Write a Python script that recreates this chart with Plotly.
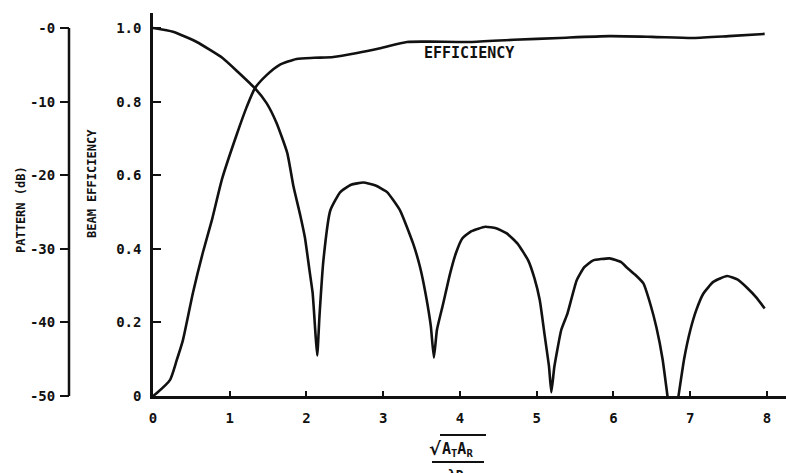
import plotly.graph_objects as go

# ---- data ----
x_pattern = [0.0, 0.26, 0.57, 0.91, 1.10, 1.33, 1.48, 1.61, 1.75, 1.83, 1.92, 1.98, 2.04, 2.08, 2.12, 2.14,
             2.17, 2.22, 2.31, 2.44, 2.58, 2.74, 2.90, 3.05, 3.22, 3.39, 3.48, 3.55, 3.62, 3.66,
             3.70, 3.78, 3.87, 3.95, 4.03, 4.15, 4.33, 4.47, 4.61, 4.75, 4.89, 4.97, 5.04, 5.10, 5.16, 5.19,
             5.23, 5.32, 5.40, 5.52, 5.62, 5.73, 5.95, 6.10, 6.17, 6.28, 6.39, 6.48, 6.56, 6.64, 6.71, 6.77,
             6.84, 6.92, 7.00, 7.08, 7.17, 7.30, 7.48, 7.62, 7.74, 7.86, 7.97]
pattern_db = [0.0, -0.5, -1.9, -4.1, -5.9, -8.2, -10.2, -12.9, -17.0, -21.5, -25.5, -28.5, -33.0, -36.0, -42.0, -44.5,
              -39.0, -31.6, -24.8, -22.3, -21.3, -21.0, -21.4, -22.3, -24.8, -29.3, -32.5, -36.0, -40.5, -44.8,
              -41.0, -37.5, -33.4, -30.5, -28.6, -27.6, -27.0, -27.2, -27.9, -29.3, -31.6, -34.0, -37.0, -41.5, -46.0, -49.5,
              -46.0, -41.0, -38.8, -34.3, -32.5, -31.6, -31.3, -31.8, -32.5, -33.5, -34.7, -37.5, -40.7, -45.0, -50.5, -55.0,
              -50.5, -45.0, -41.1, -38.3, -36.1, -34.5, -33.7, -34.2, -35.3, -36.6, -38.1]

x_eff = [0.0, 0.05, 0.22, 0.31, 0.39, 0.52, 0.65, 0.77, 0.90, 1.09, 1.22, 1.33, 1.48, 1.65, 1.87, 2.10, 2.35,
         2.66, 2.96, 3.31, 3.60, 4.13, 4.70, 5.30, 5.95, 6.50, 7.04, 7.50, 7.97]
efficiency = [0.0, 0.008, 0.043, 0.098, 0.152, 0.28, 0.39, 0.48, 0.59, 0.71, 0.785, 0.837, 0.872, 0.90, 0.916, 0.919, 0.921,
              0.932, 0.945, 0.962, 0.963, 0.962, 0.968, 0.973, 0.978, 0.976, 0.973, 0.978, 0.984]

x_ticks = [0, 1, 2, 3, 4, 5, 6, 7, 8]
eff_ticks = [0, 0.2, 0.4, 0.6, 0.8, 1.0]
eff_tick_text = ["0", "0.2", "0.4", "0.6", "0.8", "1.0"]
db_ticks = [-50, -40, -30, -20, -10, 0]
db_tick_text = ["-50", "-40", "-30", "-20", "-10", "-0"]

FONT = "DejaVu Sans Mono"
INK = "#111111"

fig = go.Figure()
fig.add_trace(go.Scatter(x=x_eff, y=efficiency, mode="lines", yaxis="y",
                         line=dict(color=INK, width=2.6, shape="spline", smoothing=0.6),
                         showlegend=False, hoverinfo="skip"))
fig.add_trace(go.Scatter(x=x_pattern, y=pattern_db, mode="lines", yaxis="y2",
                         line=dict(color=INK, width=2.6, shape="spline", smoothing=0.45),
                         showlegend=False, hoverinfo="skip"))

tickfont = dict(family=FONT, size=14, color=INK, weight="bold")

fig.update_layout(
    width=786, height=473,
    margin=dict(l=69, r=0, t=13, b=77),
    paper_bgcolor="white", plot_bgcolor="white",
    xaxis=dict(domain=[(153 - 69) / 717, 1], range=[0, 8.248], tickvals=x_ticks,
               ticks="inside", ticklen=5, tickwidth=2, tickcolor=INK,
               showline=True, linecolor=INK, linewidth=2.5, showgrid=False, zeroline=False,
               tickfont=tickfont, ticklabelstandoff=7, anchor="y"),
    yaxis=dict(range=[0, 1.0408], tickvals=eff_ticks, ticktext=eff_tick_text,
               ticks="inside", ticklen=8, tickwidth=2, tickcolor=INK,
               showline=True, linecolor=INK, linewidth=2.5, showgrid=False, zeroline=False,
               tickfont=tickfont, ticklabelstandoff=6, anchor="x"),
    yaxis2=dict(range=[-50, 2.04], tickvals=db_ticks, ticktext=db_tick_text,
                overlaying="y", anchor="free", position=0, side="left",
                ticks="outside", ticklen=9, tickwidth=2, tickcolor=INK,
                showline=False, showgrid=False, zeroline=False,
                tickfont=tickfont, ticklabelstandoff=2),
)

# pattern axis line (only spans -50 .. 0 dB)
fig.add_shape(type="line", xref="paper", yref="y2", x0=0, x1=0, y0=-50, y1=0,
              line=dict(color=INK, width=2.5))

def px(v):
    return (v - 69) / 717

def pyp(v):
    return (396 - v) / 383

ann_font = dict(family=FONT, size=12, color=INK, weight="bold")
fig.add_annotation(text="PATTERN (dB)", xref="paper", yref="paper", x=px(21), y=pyp(210),
                   xanchor="center", yanchor="middle",
                   textangle=-90, showarrow=False, font=ann_font)
fig.add_annotation(text="BEAM EFFICIENCY", xref="paper", yref="paper", x=px(92), y=pyp(184),
                   xanchor="center", yanchor="middle",
                   textangle=-90, showarrow=False, font=ann_font)
fig.add_annotation(text="EFFICIENCY", x=4.12, y=0.932, xref="x", yref="y",
                   xanchor="center", yanchor="middle",
                   showarrow=False, font=dict(family=FONT, size=15, color=INK, weight="bold"))

# x-axis title: sqrt(A_T A_R) / (lambda D)
fig.add_annotation(text="√", xref="paper", yref="paper", x=px(436), y=pyp(449),
                   xanchor="center", yanchor="middle",
                   showarrow=False, font=dict(family="DejaVu Sans", size=18, color=INK, weight="bold"))
fig.add_annotation(text="A<sub>T</sub>A<sub>R</sub>", xref="paper", yref="paper", x=px(440), y=pyp(461),
                   xanchor="left", yanchor="bottom",
                   showarrow=False, font=dict(family=FONT, size=15, color=INK, weight="bold"))
fig.add_shape(type="line", xref="paper", yref="paper", x0=px(440), x1=px(486), y0=pyp(435), y1=pyp(435),
              line=dict(color=INK, width=2))
fig.add_shape(type="line", xref="paper", yref="paper", x0=px(432), x1=px(484), y0=pyp(462), y1=pyp(462),
              line=dict(color=INK, width=2))
fig.add_annotation(text="λD", xref="paper", yref="paper", x=px(456), y=pyp(465),
                   xanchor="center", yanchor="top",
                   showarrow=False, font=dict(family=FONT, size=13, color=INK, weight="bold"))

fig.write_html("out.html", config={"displayModeBar": False},
               post_script="document.body.style.margin='0px';document.body.style.overflow='hidden';")
